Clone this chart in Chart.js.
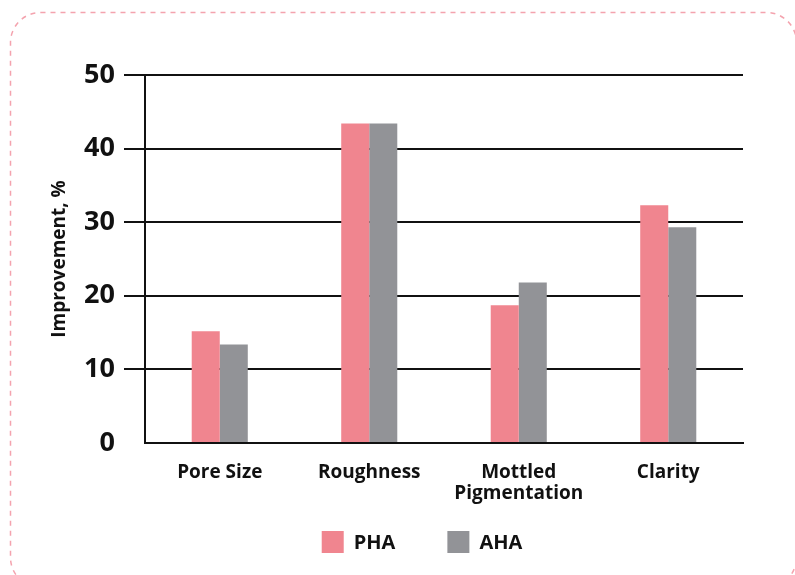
<!DOCTYPE html>
<html>
<head>
<meta charset="utf-8">
<script src="https://cdn.jsdelivr.net/npm/chart.js@4/dist/chart.umd.min.js"></script>
<style>
  html, body { margin: 0; padding: 0; background: #fff; }
  #wrap { width: 795px; height: 575px; position: relative; }
  canvas { display: block; }
</style>
</head>
<body>
<div id="wrap"><canvas id="improvementChart" width="795" height="575"></canvas></div>
<script>
// chart data
const categories = ['Pore Size', 'Roughness', ['Mottled', 'Pigmentation'], 'Clarity'];
const phaValues = [15.2, 43.4, 18.7, 32.3];
const ahaValues = [13.4, 43.4, 21.8, 29.3];
const seriesNames = ['PHA', 'AHA'];
const seriesColors = ['#f0858f', '#929397'];
const yTicks = [0, 10, 20, 30, 40, 50];

const FONT = "'Open Sans', 'DejaVu Sans', sans-serif";

// dashed rounded frame behind everything
const framePlugin = {
    id: 'frame',
    beforeDraw(chart) {
        const ctx = chart.ctx;
        ctx.save();
        ctx.strokeStyle = '#f4a3ae';
        ctx.lineWidth = 1.5;
        ctx.setLineDash([5, 5]);
        ctx.beginPath();
        ctx.roundRect(10.5, 12.5, 786, 575, 30);
        ctx.stroke();
        ctx.restore();
    }
};

// legend drawn under the axis, centred like the original
const legendPlugin = {
    id: 'bottomLegend',
    afterDraw(chart) {
        const ctx = chart.ctx;
        const box = 22, gap = 10, spacing = 52, y = 531;
        ctx.save();
        ctx.font = `bold 20px ${FONT}`;
        ctx.textBaseline = 'middle';
        const items = chart.data.datasets.map(ds => ({
            text: ds.label, color: ds.backgroundColor,
            w: box + gap + ctx.measureText(ds.label).width
        }));
        const total = items.reduce((s, it) => s + it.w, 0) + spacing * (items.length - 1);
        let x = 422 - total / 2;
        items.forEach(it => {
            ctx.fillStyle = it.color;
            ctx.fillRect(x, y, box, box);
            ctx.fillStyle = '#111';
            ctx.fillText(it.text, x + box + gap, y + box / 2 + 1);
            x += it.w + spacing;
        });
        ctx.restore();
    }
};

const ctx = document.getElementById('improvementChart').getContext('2d');
const improvementChart = new Chart(ctx, {
    type: 'bar',
    data: {
        labels: categories,
        datasets: [{
            label: seriesNames[0],
            data: phaValues,
            backgroundColor: seriesColors[0],
            categoryPercentage: 0.375,
            barPercentage: 1
        }, {
            label: seriesNames[1],
            data: ahaValues,
            backgroundColor: seriesColors[1],
            categoryPercentage: 0.375,
            barPercentage: 1
        }]
    },
    options: {
        responsive: false,
        animation: false,
        devicePixelRatio: 1,
        layout: { padding: { top: 75, right: 52, bottom: 0, left: 0 } },
        plugins: {
            legend: { display: false },
            tooltip: { enabled: false }
        },
        scales: {
            x: {
                grid: { display: false, drawTicks: false, tickLength: 0 },
                border: { display: true, color: '#111', width: 2 },
                ticks: {
                    color: '#111',
                    padding: 19,
                    maxRotation: 0,
                    font: { family: FONT, size: 19, weight: 'bold', lineHeight: 1.1 }
                },
                afterFit: (scale) => { scale.height = 132; }
            },
            y: {
                min: yTicks[0],
                max: yTicks[yTicks.length - 1],
                ticks: {
                    stepSize: 10,
                    color: '#111',
                    padding: 9,
                    font: { family: FONT, size: 27, weight: 'bold' }
                },
                grid: {
                    color: '#111',
                    lineWidth: 2,
                    drawTicks: true,
                    tickLength: 21,
                    tickColor: (c) => (c.tick && c.tick.value === 0 ? 'rgba(0,0,0,0)' : '#111')
                },
                border: { display: true, color: '#111', width: 2 },
                title: {
                    display: true,
                    text: 'Improvement, %',
                    color: '#111',
                    padding: { top: 48, bottom: 0 },
                    font: { family: FONT, size: 19, weight: 'bold' }
                },
                afterFit: (scale) => { scale.width = 145; }
            }
        }
    },
    plugins: [framePlugin, legendPlugin]
});
</script>
</body>
</html>
